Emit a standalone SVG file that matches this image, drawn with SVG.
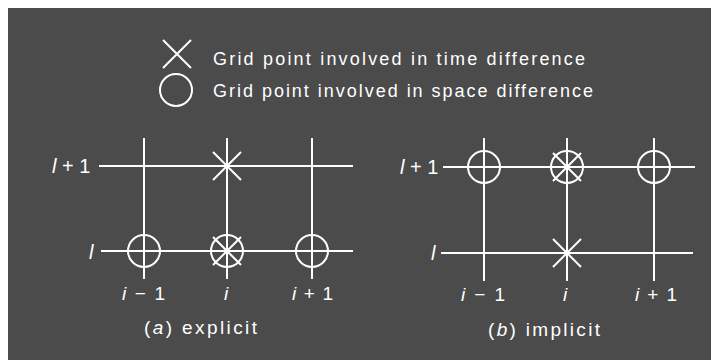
<svg xmlns="http://www.w3.org/2000/svg" width="711" height="360" viewBox="0 0 711 360">
<style>
.ln{stroke:#fff;stroke-width:2;fill:none;stroke-linecap:butt}
.mk{stroke:#fff;stroke-width:2;fill:none}
.t{fill:#fff;font-family:"Liberation Sans","DejaVu Sans",sans-serif}
.it{font-style:italic}
</style>
<defs>
<g id="cross"><path class="mk" d="M-14,-14L14,14M14,-14L-14,14"/></g>
<g id="ring"><circle class="mk" r="16"/></g>
</defs>
<rect x="0" y="0" width="711" height="360" fill="#fff"/>
<rect x="8" y="8" width="703" height="352" fill="#4b4b4b"/>

<g id="legend">
<path class="mk" d="M163,40L191,68M191,40L163,68"/>
<circle class="mk" cx="176" cy="90" r="16"/>
<text class="t" x="213" y="65" font-size="18" textLength="372" lengthAdjust="spacing">Grid point involved in time difference</text>
<text class="t" x="213" y="97" font-size="18" textLength="380" lengthAdjust="spacing">Grid point involved in space difference</text>
</g>

<g id="panel-a">
<g id="grid-a">
<path class="ln" d="M99,166H353M101,251H353M144,138V279M227,138V279M312,138V279"/>
</g>
<g id="a-top-i"><use href="#cross" x="227" y="166"/></g>
<g id="a-bot-im1"><use href="#ring" x="144" y="251"/></g>
<g id="a-bot-i"><use href="#ring" x="227" y="251"/><use href="#cross" x="227" y="251"/></g>
<g id="a-bot-ip1"><use href="#ring" x="312" y="251"/></g>
<text class="t" x="52" y="173" font-size="20"><tspan class="it">l</tspan> + 1</text>
<text class="t it" x="89" y="259" font-size="20">l</text>
<text class="t" x="122" y="300" font-size="19" textLength="43" lengthAdjust="spacing"><tspan class="it">i</tspan> − 1</text>
<text class="t it" x="226" y="300" font-size="19" text-anchor="middle">i</text>
<text class="t" x="292" y="300" font-size="19" textLength="41" lengthAdjust="spacing"><tspan class="it">i</tspan> + 1</text>
<text class="t" x="144" y="334" font-size="19" textLength="113" lengthAdjust="spacing">(<tspan class="it">a</tspan>)  explicit</text>
</g>

<g id="panel-b">
<g id="grid-b">
<path class="ln" d="M443,167H695M441,253H693M484,138V281M567,138V281M654,138V281"/>
</g>
<g id="b-top-im1"><use href="#ring" x="484" y="167"/></g>
<g id="b-top-i"><use href="#ring" x="567" y="167"/><use href="#cross" x="567" y="167"/></g>
<g id="b-top-ip1"><use href="#ring" x="654" y="167"/></g>
<g id="b-bot-i"><use href="#cross" x="567" y="253"/></g>
<text class="t" x="400" y="174" font-size="20"><tspan class="it">l</tspan> + 1</text>
<text class="t it" x="431" y="260" font-size="20">l</text>
<text class="t" x="461" y="301" font-size="19" textLength="44" lengthAdjust="spacing"><tspan class="it">i</tspan> − 1</text>
<text class="t it" x="565" y="301" font-size="19" text-anchor="middle">i</text>
<text class="t" x="635" y="301" font-size="19" textLength="42" lengthAdjust="spacing"><tspan class="it">i</tspan> + 1</text>
<text class="t" x="488" y="336" font-size="19" textLength="112" lengthAdjust="spacing">(<tspan class="it">b</tspan>)  implicit</text>
</g>
</svg>
